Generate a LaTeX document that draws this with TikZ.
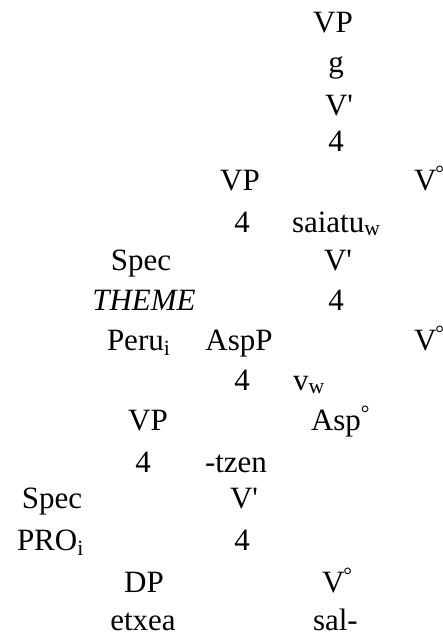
\documentclass[tikz,border=0pt]{standalone}
\usepackage{fontspec}
\setmainfont{Liberation Serif}
\newcommand{\dg}{\textsuperscript{°}}
\newcommand{\pr}{\textquotesingle}
\begin{document}
\begin{tikzpicture}[x=1pt,y=1pt,
  lbl/.style={inner sep=0pt,outer sep=0pt,anchor=base,font=\fontsize{31}{37}\selectfont},
  lbll/.style={lbl,anchor=base west}]
\useasboundingbox (0,0) rectangle (443,-637);
% row 0-3
\node[lbl] (vp0) at (333,-32) {VP};
\node[lbl] (g0) at (336,-72) {g};
\node[lbll] (vbar0) at (325,-115) {V\pr};
\node[lbl] (f0) at (336,-151) {4};
% row 4
\node[lbl] (vp1) at (240,-190) {VP};
\node[lbll] (v0) at (414,-190) {V\kern-1pt\dg};
% row 5
\node[lbl] (f1) at (242,-232) {4};
\node[lbll] (saiatu) at (292,-232) {saiatu\textsubscript{w}};
% row 6
\node[lbl] (spec1) at (141,-270) {Spec};
\node[lbll] (vbar1) at (324,-270) {V\pr};
% row 7
\node[lbl] (theme) at (144,-310) {\textit{THEME}};
\node[lbl] (f2) at (336,-310) {4};
% row 8
\node[lbll] (peru) at (107,-350) {Peru\textsubscript{i}};
\node[lbl] (aspp) at (239,-350) {AspP};
\node[lbll] (v1) at (414,-350) {V\kern-1pt\dg};
% row 9
\node[lbl] (f3) at (242,-390) {4};
\node[lbll] (vw) at (293,-390) {v\textsubscript{w}};
% row 10
\node[lbl] (vp2) at (148,-430) {VP};
\node[lbll] (asp) at (311,-430) {Asp\dg};
% row 11
\node[lbl] (f4) at (143,-472) {4};
\node[lbll] (tzen) at (205,-472) {-tzen};
% row 12
\node[lbl] (spec2) at (52,-508) {Spec};
\node[lbll] (vbar2) at (230,-508) {V\pr};
% row 13
\node[lbll] (pro) at (17,-550) {PRO\textsubscript{i}};
\node[lbl] (f5) at (242,-550) {4};
% row 14
\node[lbl] (dp) at (144,-592) {DP};
\node[lbll] (v2) at (322,-592) {V\kern-1pt\dg};
% row 15
\node[lbl] (etxea) at (143,-630) {etxea};
\node[lbll] (sal) at (313,-630) {sal-};
\end{tikzpicture}
\end{document}
